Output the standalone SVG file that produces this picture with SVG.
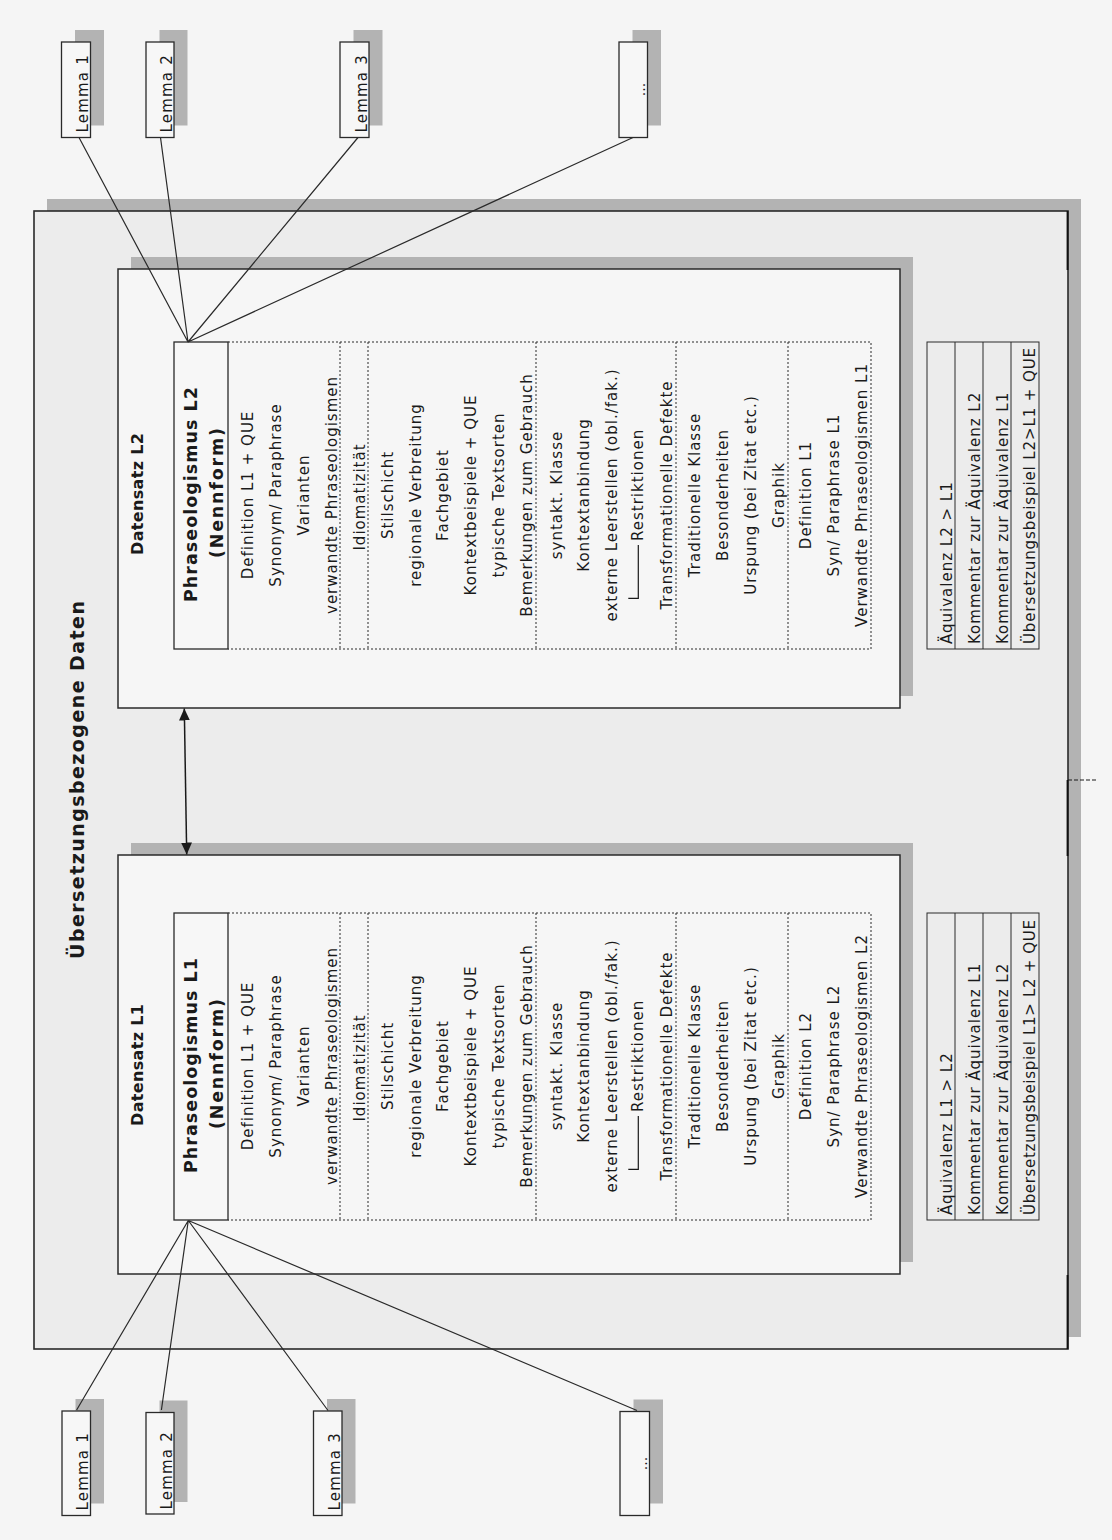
<svg xmlns="http://www.w3.org/2000/svg" width="1112" height="1540" viewBox="0 0 1112 1540">
<style>
.bg{fill:#f5f5f5}
.shadow{fill:#b3b3b3}
.outer{fill:#ececec;stroke:#2a2a2a;stroke-width:1.6}
.inner{fill:#f6f6f6;stroke:#2a2a2a;stroke-width:1.5}
.box{fill:#f7f7f7;stroke:#2a2a2a;stroke-width:1.3}
.tbl{fill:#ececec;stroke:#2a2a2a;stroke-width:1}
.dot{fill:none;stroke:#2a2a2a;stroke-width:1;stroke-dasharray:2 2}
.con{fill:none;stroke:#2a2a2a;stroke-width:1.2}
text{font-family:"DejaVu Sans",sans-serif;fill:#1a1a1a}
.r{font-size:15px;letter-spacing:1px;text-anchor:middle}
.rs{font-size:15px;letter-spacing:1px;text-anchor:start}
.lem{font-size:15px;letter-spacing:1.2px;text-anchor:start}
.dots{font-size:14px;text-anchor:middle}
.hd{font-size:17.5px;font-weight:bold;text-anchor:middle}
.ds{font-size:16px;font-weight:bold;text-anchor:middle}
.ti{font-size:19px;font-weight:bold;text-anchor:middle}
</style>
<defs>
<marker id="ah" markerUnits="userSpaceOnUse" markerWidth="12" markerHeight="11" refX="12" refY="5.5" orient="auto-start-reverse">
<path d="M0,0 L12,5.5 L0,11 z" fill="#1a1a1a"/>
</marker>
</defs>
<rect class="bg" x="0" y="0" width="1112" height="1540"/>

<g id="uebersetzungsbezogene-daten">
<rect class="shadow" x="47" y="199" width="1034" height="1138"/>
<rect class="outer" x="34" y="211" width="1034" height="1138"/>
<path d="M1067.5,211 V270 M1067.5,780 V856 M1067.5,1275 V1349" stroke="#111" stroke-width="1.8" fill="none"/>
<text class="ti" transform="translate(84 780) rotate(-90)" textLength="358">Übersetzungsbezogene Daten</text>
</g>

<g id="datensatz-l2">
<rect class="shadow" x="131" y="257" width="782" height="439"/>
<rect class="inner" x="118" y="269" width="782" height="439"/>
<text class="ds" transform="translate(143 494) rotate(-90)" textLength="122">Datensatz L2</text>
</g>

<g id="datensatz-l1">
<rect class="shadow" x="131" y="843" width="782" height="419"/>
<rect class="inner" x="118" y="855" width="782" height="419"/>
<text class="ds" transform="translate(143 1065) rotate(-90)" textLength="122">Datensatz L1</text>
</g>

<g id="phraseologismus-l2">
<rect class="box" x="174" y="342" width="54" height="307"/>
<text class="hd" transform="translate(197 494.5) rotate(-90)" textLength="215">Phraseologismus L2</text>
<text class="hd" transform="translate(223 493) rotate(-90)" textLength="130">(Nennform)</text>
</g>

<g id="attribute-l2">
<path class="dot" d="M228,342 H871 V649 H228 M340,342 V649 M368,342 V649 M536,342 V649 M676,342 V649 M788,342 V649"/>
<text class="r" transform="translate(252.5 495) rotate(-90)">Definition L1 + QUE</text>
<text class="r" transform="translate(280.5 495) rotate(-90)">Synonym/ Paraphrase</text>
<text class="r" transform="translate(308.5 495) rotate(-90)">Varianten</text>
<text class="r" transform="translate(336.5 495) rotate(-90)">verwandte Phraseologismen</text>
<text class="r" transform="translate(365 497) rotate(-90)">Idiomatizität</text>
<text class="r" transform="translate(392.5 495) rotate(-90)">Stilschicht</text>
<text class="r" transform="translate(420.5 495) rotate(-90)">regionale Verbreitung</text>
<text class="r" transform="translate(448 495) rotate(-90)">Fachgebiet</text>
<text class="r" transform="translate(476 495) rotate(-90)">Kontextbeispiele + QUE</text>
<text class="r" transform="translate(503.5 495) rotate(-90)">typische Textsorten</text>
<text class="r" transform="translate(531.5 495) rotate(-90)">Bemerkungen zum Gebrauch</text>
<text class="r" transform="translate(561.5 495) rotate(-90)">syntakt. Klasse</text>
<text class="r" transform="translate(589 495) rotate(-90)">Kontextanbindung</text>
<text class="r" transform="translate(616.5 495) rotate(-90)">externe Leerstellen (obl./fak.)</text>
<path d="M628.3,598.3 H638.3 V545" fill="none" stroke="#1a1a1a" stroke-width="1.2"/>
<text class="rs" transform="translate(643 541) rotate(-90)">Restriktionen</text>
<text class="r" transform="translate(671.5 495) rotate(-90)">Transformationelle Defekte</text>
<text class="r" transform="translate(700 495) rotate(-90)">Traditionelle Klasse</text>
<text class="r" transform="translate(728 495) rotate(-90)">Besonderheiten</text>
<text class="r" transform="translate(756 495) rotate(-90)">Urspung (bei Zitat etc.)</text>
<text class="r" transform="translate(783.5 495) rotate(-90)">Graphik</text>
<text class="r" transform="translate(811 495) rotate(-90)">Definition L1</text>
<text class="r" transform="translate(839 495) rotate(-90)">Syn/ Paraphrase L1</text>
<text class="r" transform="translate(866.5 495) rotate(-90)">Verwandte Phraseologismen L1</text>
</g>

<g id="phraseologismus-l1">
<rect class="box" x="174" y="913" width="54" height="307"/>
<text class="hd" transform="translate(197 1065.5) rotate(-90)" textLength="215">Phraseologismus L1</text>
<text class="hd" transform="translate(223 1064) rotate(-90)" textLength="130">(Nennform)</text>
</g>

<g id="attribute-l1">
<path class="dot" d="M228,913 H871 V1220 H228 M340,913 V1220 M368,913 V1220 M536,913 V1220 M676,913 V1220 M788,913 V1220"/>
<text class="r" transform="translate(252.5 1066) rotate(-90)">Definition L1 + QUE</text>
<text class="r" transform="translate(280.5 1066) rotate(-90)">Synonym/ Paraphrase</text>
<text class="r" transform="translate(308.5 1066) rotate(-90)">Varianten</text>
<text class="r" transform="translate(336.5 1066) rotate(-90)">verwandte Phraseologismen</text>
<text class="r" transform="translate(365 1068) rotate(-90)">Idiomatizität</text>
<text class="r" transform="translate(392.5 1066) rotate(-90)">Stilschicht</text>
<text class="r" transform="translate(420.5 1066) rotate(-90)">regionale Verbreitung</text>
<text class="r" transform="translate(448 1066) rotate(-90)">Fachgebiet</text>
<text class="r" transform="translate(476 1066) rotate(-90)">Kontextbeispiele + QUE</text>
<text class="r" transform="translate(503.5 1066) rotate(-90)">typische Textsorten</text>
<text class="r" transform="translate(531.5 1066) rotate(-90)">Bemerkungen zum Gebrauch</text>
<text class="r" transform="translate(561.5 1066) rotate(-90)">syntakt. Klasse</text>
<text class="r" transform="translate(589 1066) rotate(-90)">Kontextanbindung</text>
<text class="r" transform="translate(616.5 1066) rotate(-90)">externe Leerstellen (obl./fak.)</text>
<path d="M628.3,1169.3 H638.3 V1116" fill="none" stroke="#1a1a1a" stroke-width="1.2"/>
<text class="rs" transform="translate(643 1112) rotate(-90)">Restriktionen</text>
<text class="r" transform="translate(671.5 1066) rotate(-90)">Transformationelle Defekte</text>
<text class="r" transform="translate(700 1066) rotate(-90)">Traditionelle Klasse</text>
<text class="r" transform="translate(728 1066) rotate(-90)">Besonderheiten</text>
<text class="r" transform="translate(756 1066) rotate(-90)">Urspung (bei Zitat etc.)</text>
<text class="r" transform="translate(783.5 1066) rotate(-90)">Graphik</text>
<text class="r" transform="translate(811 1066) rotate(-90)">Definition L2</text>
<text class="r" transform="translate(839 1066) rotate(-90)">Syn/ Paraphrase L2</text>
<text class="r" transform="translate(866.5 1066) rotate(-90)">Verwandte Phraseologismen L2</text>
</g>

<g id="aequivalenz-l2">
<rect class="tbl" x="927" y="342" width="112" height="307"/>
<path d="M955,342 V649 M983,342 V649 M1011,342 V649" stroke="#2a2a2a" stroke-width="1" fill="none"/>
<text class="rs" transform="translate(951.5 644) rotate(-90)">Äquivalenz L2 &gt; L1</text>
<text class="rs" transform="translate(980 644) rotate(-90)">Kommentar zur Äquivalenz L2</text>
<text class="rs" transform="translate(1007.5 644) rotate(-90)">Kommentar zur Äquivalenz L1</text>
<text class="rs" transform="translate(1035 644) rotate(-90)" textLength="297">Übersetzungsbeispiel L2&gt;L1 + QUE</text>
</g>

<g id="aequivalenz-l1">
<rect class="tbl" x="927" y="913" width="112" height="307"/>
<path d="M955,913 V1220 M983,913 V1220 M1011,913 V1220" stroke="#2a2a2a" stroke-width="1" fill="none"/>
<text class="rs" transform="translate(951.5 1215) rotate(-90)">Äquivalenz L1 &gt; L2</text>
<text class="rs" transform="translate(980 1215) rotate(-90)">Kommentar zur Äquivalenz L1</text>
<text class="rs" transform="translate(1007.5 1215) rotate(-90)">Kommentar zur Äquivalenz L2</text>
<text class="rs" transform="translate(1035 1215) rotate(-90)" textLength="296">Übersetzungsbeispiel L1&gt; L2 + QUE</text>
</g>

<g id="lemma-top-1">
<rect class="shadow" x="75" y="30" width="29" height="95.5"/>
<rect class="box" x="61.5" y="42" width="29" height="95.5"/>
<text class="lem" transform="translate(88 132.5) rotate(-90)">Lemma 1</text>
</g>
<g id="lemma-top-2">
<rect class="shadow" x="159.5" y="30" width="28" height="95.5"/>
<rect class="box" x="146" y="42" width="28" height="95.5"/>
<text class="lem" transform="translate(171.5 132.5) rotate(-90)">Lemma 2</text>
</g>
<g id="lemma-top-3">
<rect class="shadow" x="353.5" y="30" width="29" height="95.5"/>
<rect class="box" x="340" y="42" width="29" height="95.5"/>
<text class="lem" transform="translate(366.5 132.5) rotate(-90)">Lemma 3</text>
</g>
<g id="lemma-top-more">
<rect class="shadow" x="632.5" y="30" width="28.5" height="95.5"/>
<rect class="box" x="619" y="42" width="28.5" height="95.5"/>
<text class="dots" transform="translate(644.5 89.5) rotate(-90)">...</text>
</g>

<g id="lemma-bottom-1">
<rect class="shadow" x="75.5" y="1399" width="28.5" height="104.5"/>
<rect class="box" x="62" y="1411" width="28.5" height="104.5"/>
<text class="lem" transform="translate(88 1510.5) rotate(-90)">Lemma 1</text>
</g>
<g id="lemma-bottom-2">
<rect class="shadow" x="159.5" y="1400.5" width="28" height="101.5"/>
<rect class="box" x="146" y="1412.5" width="28" height="101.5"/>
<text class="lem" transform="translate(171.5 1509.5) rotate(-90)">Lemma 2</text>
</g>
<g id="lemma-bottom-3">
<rect class="shadow" x="327" y="1399" width="28.5" height="104.5"/>
<rect class="box" x="313.5" y="1411" width="28.5" height="104.5"/>
<text class="lem" transform="translate(339.5 1510.5) rotate(-90)">Lemma 3</text>
</g>
<g id="lemma-bottom-more">
<rect class="shadow" x="633.5" y="1399.5" width="29.5" height="104"/>
<rect class="box" x="620" y="1411.5" width="29.5" height="104"/>
<text class="dots" transform="translate(646.5 1463.5) rotate(-90)">...</text>
</g>

<g id="connectors">
<path class="con" d="M79,137.5 L188,342 M160.5,137.5 L188,342 M358,137.5 L188,342 M633,137.5 L188,342"/>
<path class="con" d="M76.6,1410 L188.3,1220.5 M161.4,1410 L188.3,1220.5 M328,1410.5 L188.3,1220.5 M637,1410.5 L188.3,1220.5"/>
<line x1="184.3" y1="708.5" x2="186.7" y2="854.5" stroke="#1a1a1a" stroke-width="1.5" marker-start="url(#ah)" marker-end="url(#ah)"/>
<line x1="1068" y1="780" x2="1096" y2="780" stroke="#1a1a1a" stroke-width="1.2" stroke-dasharray="4 2"/>
</g>
</svg>
